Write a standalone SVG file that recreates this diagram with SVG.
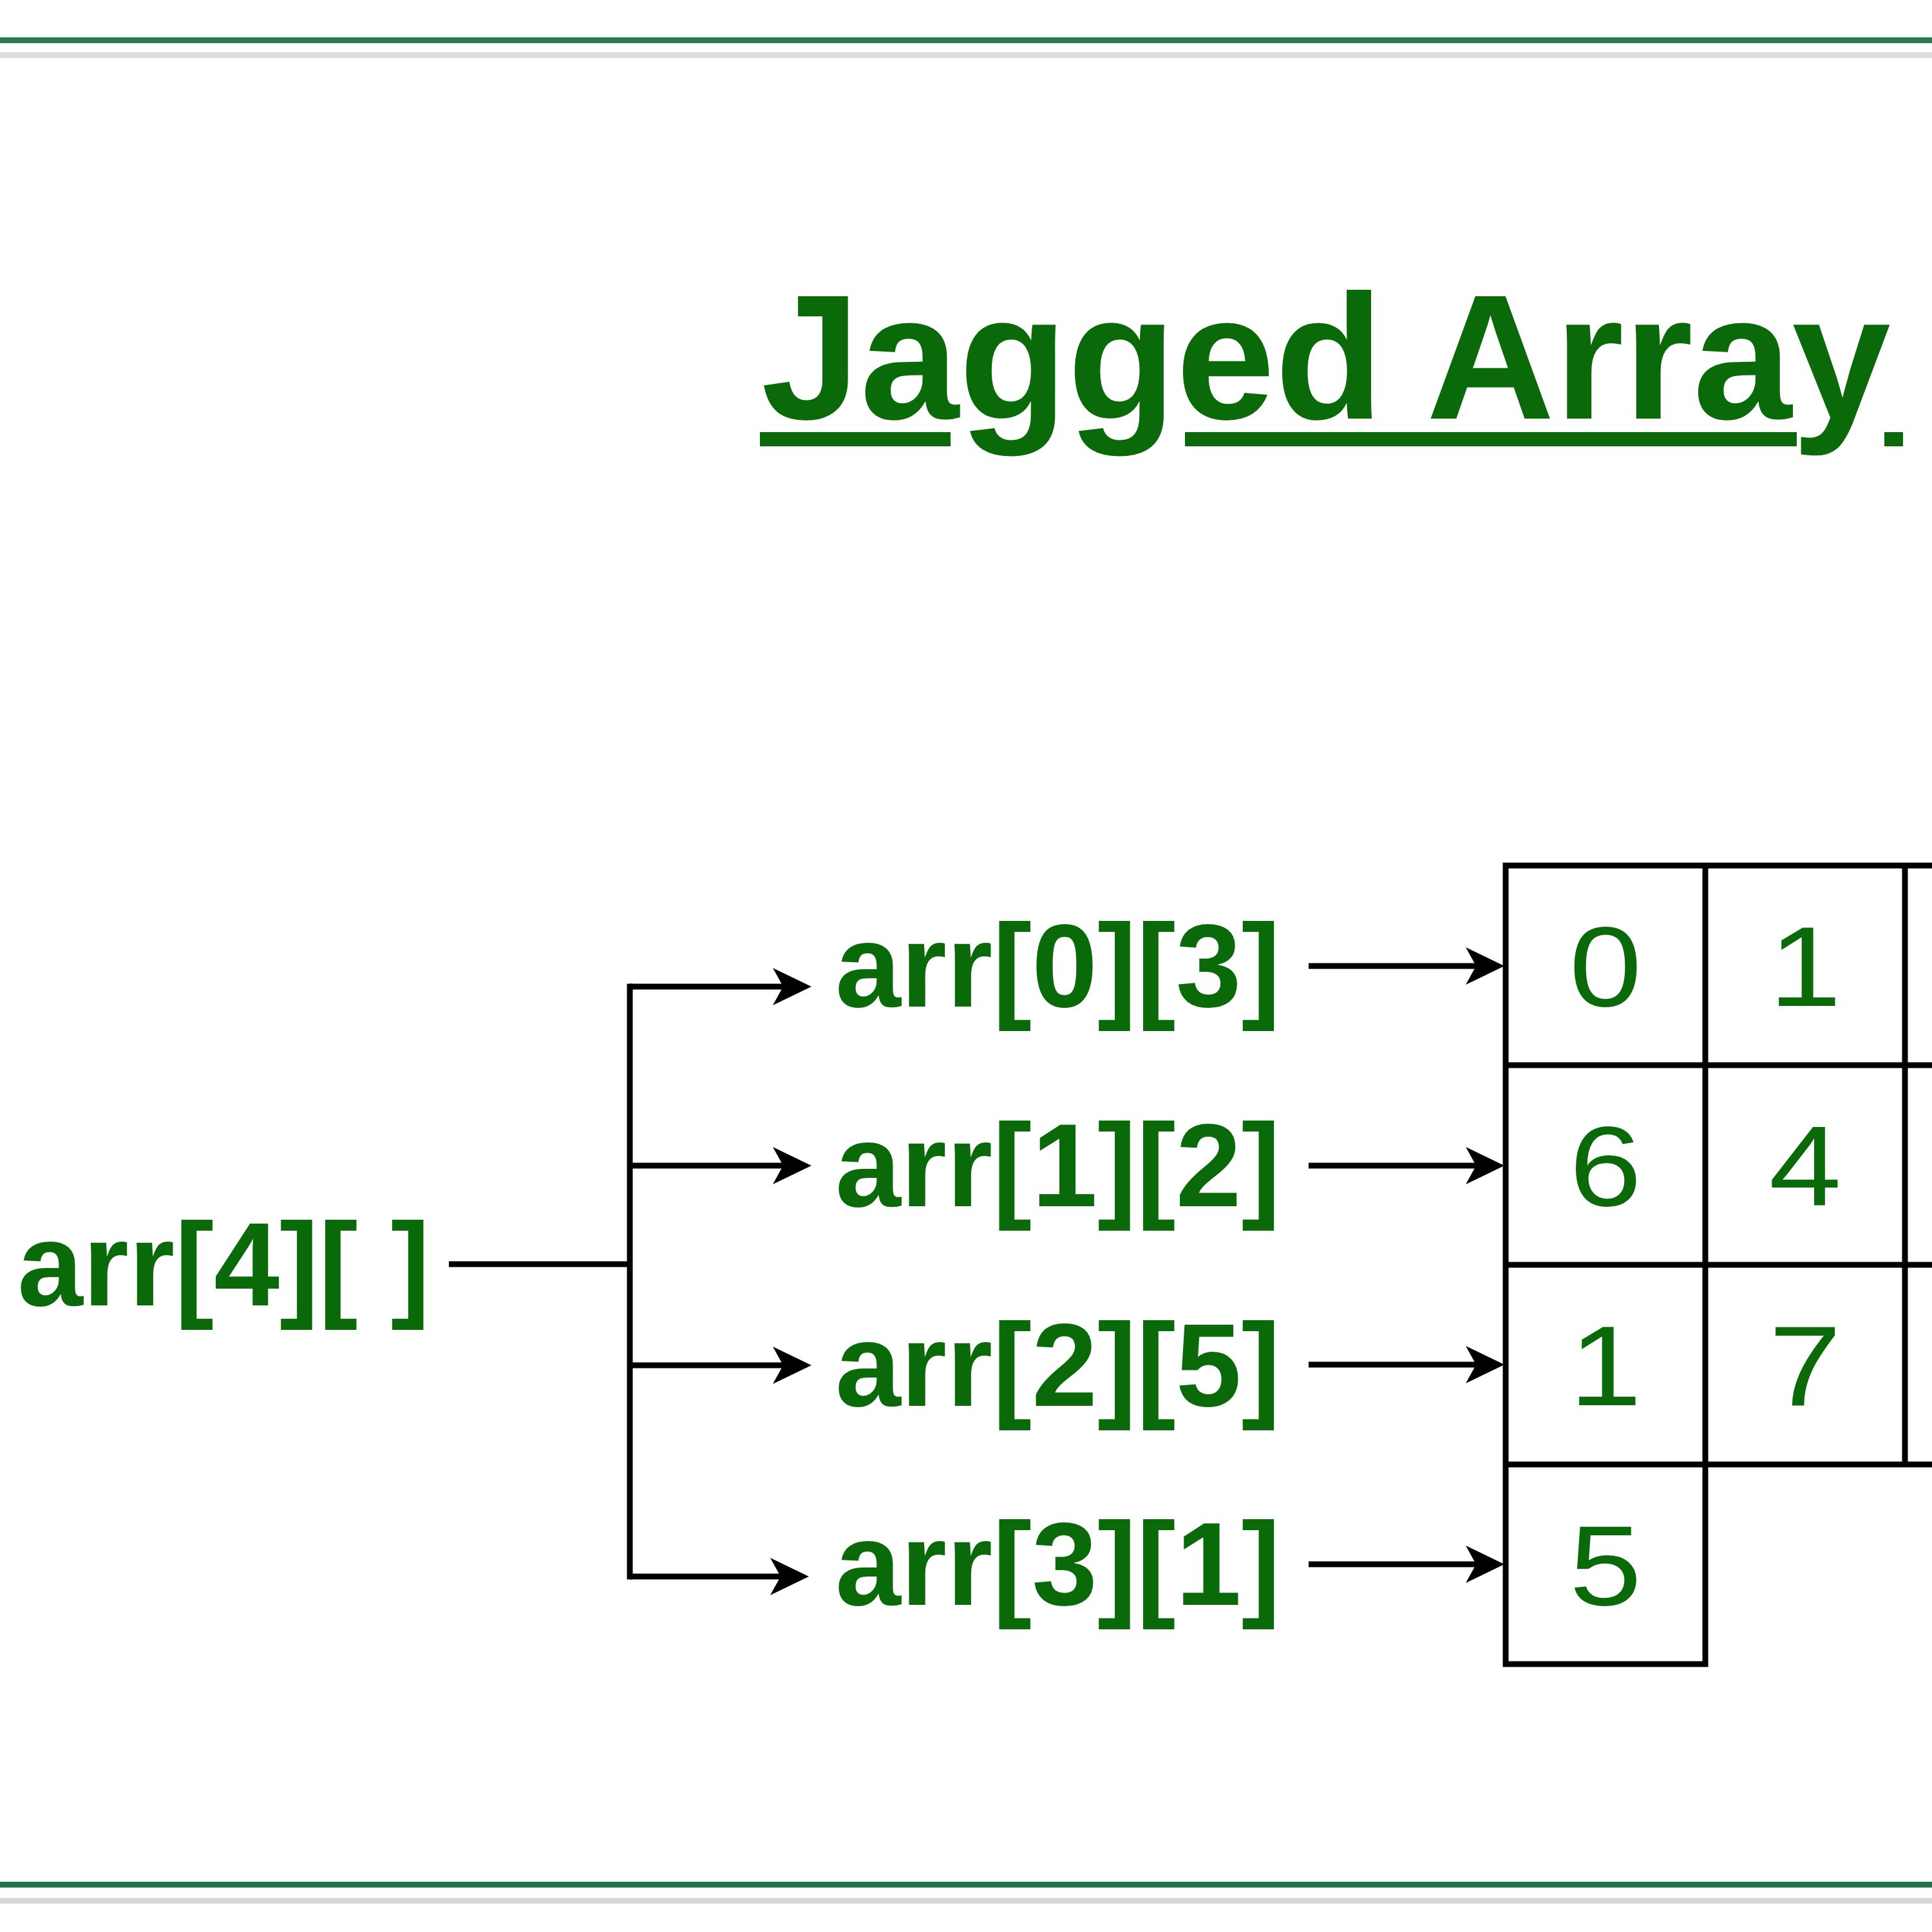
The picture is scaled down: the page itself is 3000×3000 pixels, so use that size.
<svg xmlns="http://www.w3.org/2000/svg" width="3000" height="3000" viewBox="0 0 3000 3000">
<style>
.lbl{font-family:"Liberation Sans",Arial,sans-serif;font-weight:bold;font-size:183px;fill:#0a6a0a}
.num{font-family:"Liberation Sans",Arial,sans-serif;font-size:176px;fill:#0a6a0a;text-anchor:middle}
.title{font-family:"Liberation Sans",Arial,sans-serif;font-weight:bold;font-size:276px;fill:#0a6a0a}
.ul{fill:#0a6a0a}
.grid{stroke:#000;stroke-width:9;fill:none;stroke-linecap:square}
.con{stroke:#000;stroke-width:9;fill:none}
</style>
<defs>
<marker id="ah" markerUnits="userSpaceOnUse" markerWidth="64" markerHeight="64" viewBox="0 -32 64 64" refX="20" refY="0" orient="auto">
<path d="M0,-29 L60,0 L0,29 L16,0 Z" fill="#000"/>
</marker>
</defs>
<rect width="3000" height="3000" fill="#fff"/>
<g id="frame">
<rect x="0" y="58" width="3000" height="9" fill="#2b7a52"/>
<rect x="0" y="81" width="3000" height="9" fill="#dcdcd8"/>
<rect x="0" y="2922" width="3000" height="9" fill="#24704a"/>
<rect x="0" y="2947" width="3000" height="9" fill="#d8d8d6"/>
</g>
<g id="title">
<text class="title" x="1182" y="650">Jagged Array</text>
<rect class="ul" x="1180" y="671" width="296" height="22"/>
<rect class="ul" x="1840" y="671" width="950" height="22"/>
<rect class="ul" x="2926" y="671" width="29" height="22"/>
</g>
<g id="root"><text class="lbl" x="27" y="2027">arr[4][ ]</text></g>
<g id="row0-label"><text class="lbl" x="1297" y="1563">arr[0][3]</text></g>
<g id="row1-label"><text class="lbl" x="1297" y="1873">arr[1][2]</text></g>
<g id="row2-label"><text class="lbl" x="1297" y="2183">arr[2][5]</text></g>
<g id="row3-label"><text class="lbl" x="1297" y="2492">arr[3][1]</text></g>
<g id="grid">
<path class="grid" d="M2338,1344 H3010 M2338,1654 H3010 M2338,1964 H3010 M2338,2274 H3010 M2338,2584 H2648 M2338,1344 V2584 M2648,1344 V2584 M2958,1344 V2274"/>
</g>
<g id="row0"><text class="num" transform="translate(2493,1562) scale(1.15,1)">0</text><text class="num" transform="translate(2803,1562) scale(1.15,1)">1</text></g>
<g id="row1"><text class="num" transform="translate(2493,1872) scale(1.15,1)">6</text><text class="num" transform="translate(2803,1872) scale(1.15,1)">4</text></g>
<g id="row2"><text class="num" transform="translate(2493,2182) scale(1.15,1)">1</text><text class="num" transform="translate(2803,2182) scale(1.15,1)">7</text></g>
<g id="row3"><text class="num" transform="translate(2493,2492) scale(1.15,1)">5</text></g>
<g id="connectors">
<path class="con" d="M697,1963 H978"/>
<path class="con" d="M978,1532 V2448" stroke-linecap="square"/>
<path class="con" d="M978,1532 H1220" marker-end="url(#ah)"/>
<path class="con" d="M978,1810 H1220" marker-end="url(#ah)"/>
<path class="con" d="M978,2120 H1220" marker-end="url(#ah)"/>
<path class="con" d="M978,2448 H1216" marker-end="url(#ah)"/>
<path class="con" d="M2032,1500 H2296" marker-end="url(#ah)"/>
<path class="con" d="M2032,1810 H2296" marker-end="url(#ah)"/>
<path class="con" d="M2032,2119 H2296" marker-end="url(#ah)"/>
<path class="con" d="M2032,2429 H2296" marker-end="url(#ah)"/>
</g>
</svg>
